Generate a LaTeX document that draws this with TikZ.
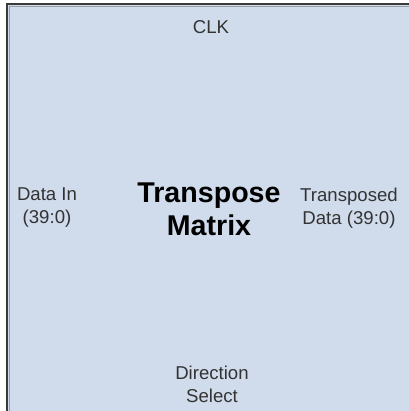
\documentclass[tikz,border=0pt]{standalone}
\usepackage{fontspec}
\setmainfont{Liberation Sans}
\definecolor{blockfill}{HTML}{D0DCEC}
\definecolor{edgedark}{HTML}{3A3A3A}
\definecolor{edgesoft}{HTML}{9AA0A8}
\definecolor{labeltext}{HTML}{333333}
\begin{document}
\begin{tikzpicture}[x=1bp,y=-1bp,
  portlabel/.style={align=center,text=labeltext,inner sep=0pt,
    font=\fontsize{18.6bp}{23bp}\selectfont},
  titlelabel/.style={align=center,text=black,inner sep=0pt,
    font=\fontsize{28.6bp}{33bp}\selectfont\bfseries}]
  \useasboundingbox (0,0) rectangle (409,411);
  \begin{scope}
    \clip (0,0) rectangle (409,411);
    % block body, running past the right and bottom edges
    \fill[blockfill] (7,4) rectangle (420,420);
    \draw[edgesoft,line width=1bp] (9,420) -- (9,6) -- (420,6);
    \draw[edgedark,line width=2bp] (7,420) -- (7,4) -- (420,4);
  \end{scope}
  % port and block labels
  \node[portlabel] (clk) at (211,27) {CLK};
  \node[portlabel] (din) at (47,208) {Data In\\(39:0)};
  \node[titlelabel] (title) at (209,209) {Transpose\\Matrix};
  \node[portlabel] (dout) at (349,208) {Transposed\\Data (39:0)};
  \node[portlabel] (dir) at (212,384) {Direction\\Select};
\end{tikzpicture}
\end{document}
